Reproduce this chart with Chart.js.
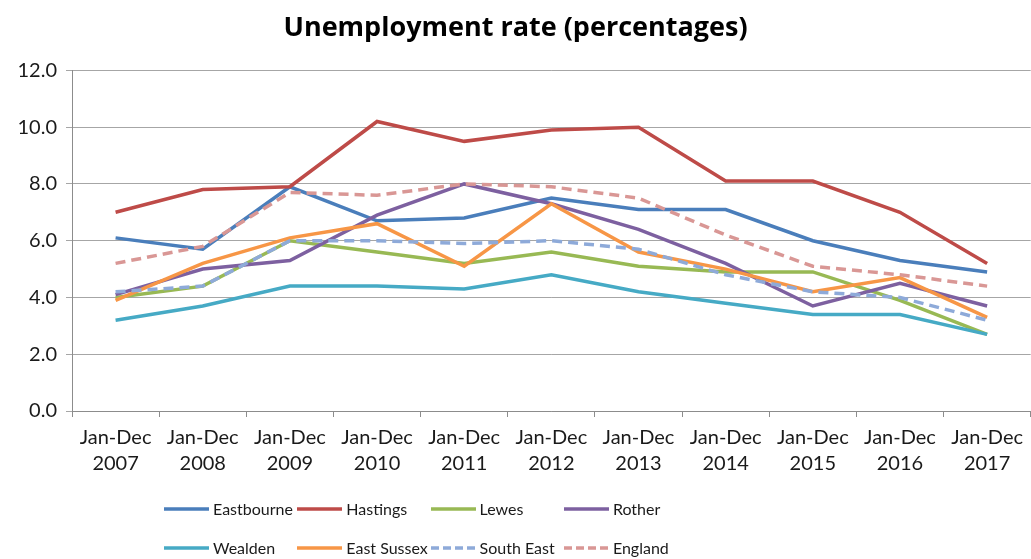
<!DOCTYPE html>
<html>
<head>
<meta charset="utf-8">
<script src="https://cdn.jsdelivr.net/npm/chart.js@4/dist/chart.umd.min.js"></script>
<style>
  html, body { margin: 0; padding: 0; background: #ffffff; }
  #wrap { position: relative; width: 1031px; height: 559px; overflow: hidden; }
  #chart { position: absolute; left: 0; top: 0; }
  #legend {
    position: absolute; left: 164px; top: 489px;
    display: grid; grid-template-columns: repeat(4, 133.3px); grid-auto-rows: 39px;
    font-family: Lato, "Liberation Sans", sans-serif; font-size: 16px; color: #1a1a1a;
  }
  #legend .item { display: flex; align-items: center; white-space: nowrap; }
  #legend svg { flex: none; margin-right: 4px; }
</style>
</head>
<body>
<div id="wrap">
  <canvas id="chart" width="1031" height="559"></canvas>
  <div id="legend"></div>
</div>
<script>
const categories = [
  ["Jan-Dec", "2007"], ["Jan-Dec", "2008"], ["Jan-Dec", "2009"], ["Jan-Dec", "2010"],
  ["Jan-Dec", "2011"], ["Jan-Dec", "2012"], ["Jan-Dec", "2013"], ["Jan-Dec", "2014"],
  ["Jan-Dec", "2015"], ["Jan-Dec", "2016"], ["Jan-Dec", "2017"]
];
const eastbourne = [6.1, 5.7, 7.9, 6.7, 6.8, 7.5, 7.1, 7.1, 6.0, 5.3, 4.9];
const hastings   = [7.0, 7.8, 7.9, 10.2, 9.5, 9.9, 10.0, 8.1, 8.1, 7.0, 5.2];
const lewes      = [4.0, 4.4, 6.0, 5.6, 5.2, 5.6, 5.1, 4.9, 4.9, 3.9, 2.7];
const rother     = [4.1, 5.0, 5.3, 6.9, 8.0, 7.3, 6.4, 5.2, 3.7, 4.5, 3.7];
const wealden    = [3.2, 3.7, 4.4, 4.4, 4.3, 4.8, 4.2, 3.8, 3.4, 3.4, 2.7];
const eastSussex = [3.9, 5.2, 6.1, 6.6, 5.1, 7.3, 5.6, 5.0, 4.2, 4.7, 3.3];
const southEast  = [4.2, 4.4, 6.0, 6.0, 5.9, 6.0, 5.7, 4.8, 4.2, 4.0, 3.2];
const england    = [5.2, 5.8, 7.7, 7.6, 8.0, 7.9, 7.5, 6.2, 5.1, 4.8, 4.4];
const yTicks = [0, 2, 4, 6, 8, 10, 12];

const seriesNames  = ["Eastbourne", "Hastings", "Lewes", "Rother", "Wealden", "East Sussex", "South East", "England"];
const seriesValues = [eastbourne, hastings, lewes, rother, wealden, eastSussex, southEast, england];
const seriesColors = ["#4a7ebb", "#be4b48", "#98b954", "#7d60a0", "#46aac5", "#f79646", "#8eaad9", "#d99795"];
const seriesDashed = [false, false, false, false, false, false, true, true];

const FONT = "Lato, 'Liberation Sans', sans-serif";

const datasets = seriesNames.map((name, i) => ({
  label: name,
  data: seriesValues[i],
  borderColor: seriesColors[i],
  backgroundColor: seriesColors[i],
  borderWidth: 3.5,
  borderDash: seriesDashed[i] ? [10, 6] : [],
  pointRadius: 0,
  pointHoverRadius: 0,
  tension: 0,
  fill: false,
  order: seriesNames.length - i
}));

const chart = new Chart(document.getElementById("chart"), {
  type: "line",
  data: { labels: categories, datasets },
  options: {
    responsive: false,
    animation: false,
    layout: { padding: { left: 0, right: 0, top: 0, bottom: 74 } },
    plugins: {
      legend: { display: false },
      tooltip: { enabled: false },
      title: {
        display: true,
        text: "Unemployment rate (percentages)",
        color: "#000000",
        font: { family: "'Open Sans', Lato, sans-serif", size: 27, weight: "bold" },
        padding: { top: 12, bottom: 26 }
      }
    },
    scales: {
      x: {
        offset: true,
        grid: { offset: true, drawOnChartArea: false, drawTicks: true, tickLength: 6, color: "#8c8c8c" },
        border: { display: true, color: "#8c8c8c", width: 1 },
        ticks: {
          color: "#1a1a1a", font: { family: FONT, size: 20, lineHeight: 1.3 },
          padding: 8, maxRotation: 0, autoSkip: false
        }
      },
      y: {
        min: 0, max: 12,
        afterFit: (s) => { s.width = 72; },
        afterBuildTicks: (s) => { s.ticks = yTicks.map(v => ({ value: v })); },
        grid: { color: "#a6a6a6", lineWidth: 1, drawTicks: true, tickLength: 6 },
        border: { display: true, color: "#8c8c8c", width: 1 },
        ticks: {
          color: "#1a1a1a", font: { family: FONT, size: 20 }, padding: 9,
          callback: (v) => Number(v).toFixed(1)
        }
      }
    }
  }
});

// HTML legend from the chart's own datasets
const legendEl = document.getElementById("legend");
chart.data.datasets.forEach((ds) => {
  const item = document.createElement("div");
  item.className = "item";
  const dashed = ds.borderDash && ds.borderDash.length;
  item.innerHTML =
    '<svg width="45" height="4"><line x1="0" y1="2" x2="45" y2="2" stroke="' + ds.borderColor +
    '" stroke-width="3.5" stroke-dasharray="' + (dashed ? "8,4" : "none") + '"/></svg>';
  const span = document.createElement("span");
  span.textContent = ds.label;
  item.appendChild(span);
  legendEl.appendChild(item);
});
</script>
</body>
</html>
